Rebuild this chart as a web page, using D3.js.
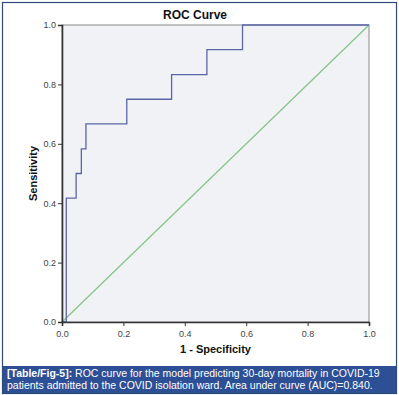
<!DOCTYPE html>
<html>
<head>
<meta charset="utf-8">
<script src="https://cdn.jsdelivr.net/npm/d3@7"></script>
<style>
  body { margin: 0; background: #fff; }
  svg text { font-family: "Liberation Sans", Arial, sans-serif; }
</style>
</head>
<body>
<div id="chart"></div>
<script>
// ROC points (1 - specificity, sensitivity)
const fpr = [0, 0.014, 0.014, 0.046, 0.046, 0.063, 0.063, 0.078, 0.078, 0.211, 0.211, 0.357, 0.357, 0.472, 0.472, 0.588, 0.588, 1.0];
const tpr = [0, 0, 0.417, 0.417, 0.5, 0.5, 0.583, 0.583, 0.667, 0.667, 0.75, 0.75, 0.833, 0.833, 0.917, 0.917, 1.0, 1.0];
const refLine = [0, 1];
const ticks = [0, 0.2, 0.4, 0.6, 0.8, 1.0];
const captionLines = [
  ["[Table/Fig-5]:", " ROC curve for the model predicting 30-day mortality in COVID-19"],
  ["", "patients admitted to the COVID isolation ward. Area under curve (AUC)=0.840."]
];

const W = 399, H = 395;
const margin = {top: 25, left: 62, right: 30, bottom: 73};
const width = 369 - margin.left;
const height = 322 - margin.top;

const svg = d3.select('#chart')
  .append('svg')
    .attr('width', W)
    .attr('height', H);

// outer frame
svg.append('rect')
  .attr('x', 2.5).attr('y', 2.5)
  .attr('width', 394).attr('height', 391)
  .attr('fill', '#fff')
  .attr('stroke', '#2e4a78')
  .attr('stroke-width', 1.2);

const g = svg.append('g')
  .attr('transform', 'translate(' + margin.left + ',' + margin.top + ')');

let x = d3.scaleLinear().domain([0, 1]).range([0, width]);
let y = d3.scaleLinear().domain([0, 1]).range([height, 0]);

g.append('rect')
  .attr('width', width).attr('height', height)
  .attr('fill', '#f1f2f6')
  .attr('stroke', '#8a8a8a')
  .attr('stroke-width', 1);

// reference diagonal
g.append('line')
  .attr('x1', x(refLine[0])).attr('y1', y(refLine[0]))
  .attr('x2', x(refLine[1])).attr('y2', y(refLine[1]))
  .attr('stroke', '#86c68a')
  .attr('stroke-width', 1.3);

// ROC curve
const line = d3.line()
  .x((d, i) => x(fpr[i]))
  .y((d, i) => y(tpr[i]));
g.append('path')
  .datum(fpr)
  .attr('d', line)
  .attr('fill', 'none')
  .attr('stroke', '#5c66a6')
  .attr('stroke-width', 1.3);

// axes
const xAxis = g.append('g')
  .attr('transform', 'translate(0,' + height + ')')
  .call(d3.axisBottom(x).tickValues(ticks).tickFormat(d3.format('.1f')).tickSize(4));
const yAxis = g.append('g')
  .call(d3.axisLeft(y).tickValues(ticks).tickFormat(d3.format('.1f')).tickSize(4));

[xAxis, yAxis].forEach(a => {
  a.select('.domain').attr('stroke', '#333').attr('stroke-width', 1.6);
  a.selectAll('.tick line').attr('stroke', '#333');
  a.selectAll('.tick text')
    .attr('fill', '#444')
    .style('font-size', '9px');
});
xAxis.selectAll('.tick text').attr('dy', '0.9em');
yAxis.selectAll('.tick text').attr('dx', '1px');

// titles
svg.append('text')
  .attr('x', 195).attr('y', 19)
  .attr('text-anchor', 'middle')
  .style('font-size', '12px').style('font-weight', 'bold')
  .attr('fill', '#111')
  .text('ROC Curve');

svg.append('text')
  .attr('x', margin.left + width / 2).attr('y', 353)
  .attr('text-anchor', 'middle')
  .style('font-size', '11px').style('font-weight', 'bold')
  .attr('fill', '#111')
  .text('1 - Specificity');

svg.append('text')
  .attr('transform', 'translate(37,' + (margin.top + height / 2) + ') rotate(-90)')
  .attr('text-anchor', 'middle')
  .style('font-size', '11px').style('font-weight', 'bold')
  .attr('fill', '#111')
  .text('Sensitivity');

// caption band
svg.append('rect')
  .attr('x', 3).attr('y', 366)
  .attr('width', 393).attr('height', 27)
  .attr('fill', '#2d4f95');

captionLines.forEach((l, i) => {
  const t = svg.append('text')
    .attr('x', 7).attr('y', 377 + i * 12)
    .style('font-size', '10.5px')
    .attr('fill', '#fff');
  if (l[0]) t.append('tspan').style('font-weight', 'bold').text(l[0]);
  t.append('tspan').text(l[1]);
});
</script>
</body>
</html>
